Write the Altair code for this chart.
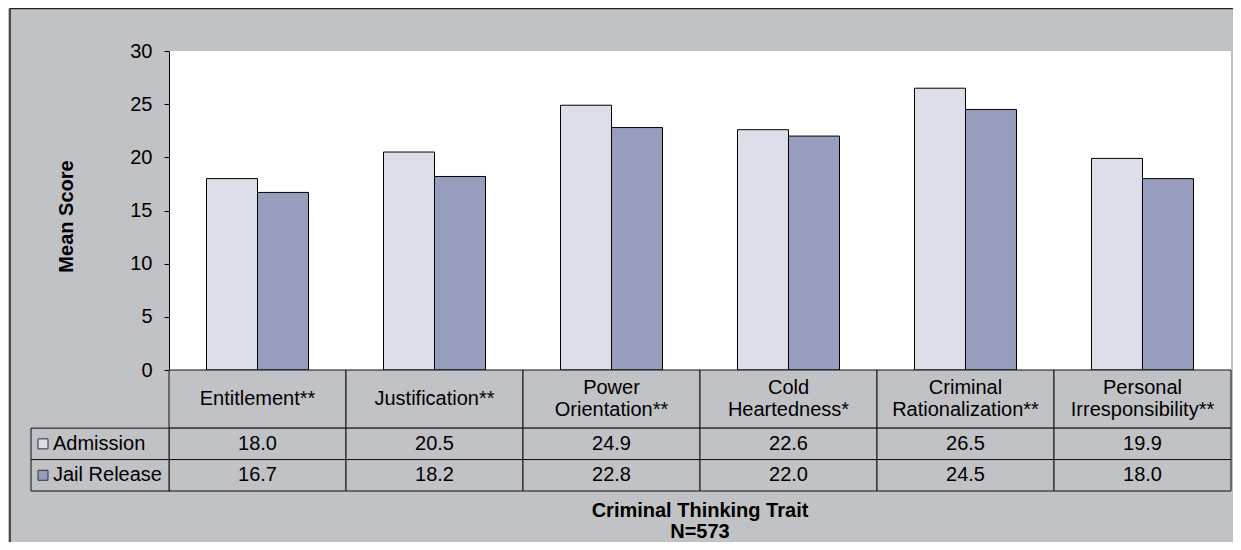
import altair as alt
import pandas as pd

# ---------------- data ----------------
categories = ["Entitlement**", "Justification**", "Power\nOrientation**",
              "Cold\nHeartedness*", "Criminal\nRationalization**",
              "Personal\nIrresponsibility**"]
series = ["Admission", "Jail Release"]
admission = [18.0, 20.5, 24.9, 22.6, 26.5, 19.9]
jail_release = [16.7, 18.2, 22.8, 22.0, 24.5, 18.0]
y_ticks = [0, 5, 10, 15, 20, 25, 30]
y_title = "Mean Score"
x_title = "Criminal Thinking Trait\nN=573"

# ---------------- style / layout ----------------
BG = "#C0C2C6"
COLORS = ["#DCDEEA", "#979DBD"]
FONT = "Liberation Sans"
PLOT_W = 1062
BAR_H = 319
TABLE_H = 121
Y_MAX = 30
HEADER_UNITS = 1.85
TABLE_UNITS = HEADER_UNITS + len(series)
LEGEND_PX = 138
TXT = 20
HEADER_LH = 22
PAD = {"left": 161, "top": 43, "right": 2, "bottom": 51}

n = len(categories)
step_px = PLOT_W / n
legend_left = -LEGEND_PX / step_px
units_per_px = TABLE_UNITS / TABLE_H
values_by_series = [admission, jail_release]

bars_df = pd.DataFrame({
    "category": categories * len(series),
    "series": [s for s in series for _ in range(n)],
    "value": admission + jail_release,
})

y_bar_scale = alt.Scale(domain=[-Y_MAX * TABLE_H / BAR_H, Y_MAX], nice=False, zero=False)
tx = alt.Scale(domain=[0, n], nice=False, zero=False)
ty = alt.Scale(domain=[-TABLE_UNITS * BAR_H / TABLE_H, TABLE_UNITS],
               reverse=True, nice=False, zero=False)
color_scale = alt.Scale(domain=series, range=COLORS)

bars = alt.Chart(bars_df).mark_bar(stroke="black", strokeWidth=1).encode(
    x=alt.X("category:N", sort=categories, axis=None,
            scale=alt.Scale(paddingInner=0.4237, paddingOuter=0.2119)),
    xOffset=alt.XOffset("series:N", sort=series),
    y=alt.Y("value:Q", scale=y_bar_scale,
            axis=alt.Axis(values=y_ticks, title=y_title, grid=False,
                          labelFont=FONT, labelFontSize=20, labelColor="black",
                          labelPadding=12, tickSize=5, tickColor="black",
                          domainColor="black", titleFont=FONT, titleFontSize=20,
                          titleFontWeight="bold", titleColor="black",
                          titlePadding=53, titleY=165)),
    y2=alt.datum(0),
    color=alt.Color("series:N", scale=color_scale, legend=None),
)

# table cells
row_tops = [0] + [HEADER_UNITS + k for k in range(len(series))]
row_bots = [HEADER_UNITS] + [HEADER_UNITS + k + 1 for k in range(len(series))]
cell_rows = []
for i in range(n):
    for r in range(len(row_tops)):
        cell_rows.append({"x0": i, "x1": i + 1, "y0": row_tops[r], "y1": row_bots[r]})
for k in range(len(series)):
    cell_rows.append({"x0": legend_left, "x1": 0, "y0": row_tops[k + 1], "y1": row_bots[k + 1]})
cells_df = pd.DataFrame(cell_rows)

cells = alt.Chart(cells_df).mark_rect(fill=BG, stroke="#111", strokeWidth=1).encode(
    x=alt.X("x0:Q", scale=tx, axis=None), x2="x1:Q",
    y=alt.Y("y0:Q", scale=ty, axis=None), y2="y1:Q",
)

header_df = pd.DataFrame({
    "x": [i + 0.5 for i in range(n)],
    "y": [HEADER_UNITS / 2 - (c.count("\n")) * HEADER_LH / 2 * units_per_px for c in categories],
    "t": categories,
})
header_text = alt.Chart(header_df).mark_text(
    font=FONT, fontSize=TXT, lineBreak="\n", lineHeight=HEADER_LH, color="black",
    align="center", baseline="middle").encode(
    x=alt.X("x:Q", scale=tx, axis=None), y=alt.Y("y:Q", scale=ty, axis=None), text="t:N")

val_rows = []
for k, s in enumerate(series):
    for i in range(n):
        val_rows.append({"x": i + 0.5, "y": (row_tops[k + 1] + row_bots[k + 1]) / 2,
                         "v": values_by_series[k][i]})
val_df = pd.DataFrame(val_rows)
value_text = alt.Chart(val_df).mark_text(
    font=FONT, fontSize=TXT, color="black", align="center", baseline="middle").encode(
    x=alt.X("x:Q", scale=tx, axis=None), y=alt.Y("y:Q", scale=ty, axis=None),
    text=alt.Text("v:Q", format=".1f"))

leg_df = pd.DataFrame({"x": [legend_left] * len(series),
                       "y": [(row_tops[k + 1] + row_bots[k + 1]) / 2 for k in range(len(series))],
                       "series": series})
legend_text = alt.Chart(leg_df).mark_text(
    font=FONT, fontSize=TXT, color="black", align="left", baseline="middle", dx=22).encode(
    x=alt.X("x:Q", scale=tx, axis=None), y=alt.Y("y:Q", scale=ty, axis=None), text="series:N")
swatches = alt.Chart(leg_df).mark_square(
    size=100, filled=True, opacity=1, stroke="#333", strokeWidth=1, xOffset=12).encode(
    x=alt.X("x:Q", scale=tx, axis=None), y=alt.Y("y:Q", scale=ty, axis=None),
    color=alt.Color("series:N", scale=color_scale, legend=None))

title_df = pd.DataFrame({"x": [n / 2], "y": [TABLE_UNITS], "t": [x_title]})
title_text = alt.Chart(title_df).mark_text(
    font=FONT, fontSize=20, fontWeight="bold", color="black", lineBreak="\n",
    lineHeight=21, align="center", baseline="top", dy=10).encode(
    x=alt.X("x:Q", scale=tx, axis=None), y=alt.Y("y:Q", scale=ty, axis=None), text="t:N")

frame_df = pd.DataFrame({"k": [0]})
frame_top = alt.Chart(frame_df).mark_rule(color="#222", strokeWidth=1.5).encode(
    x=alt.value(-159), x2=alt.value(PLOT_W + 20), y=alt.value(-42.5))
frame_left = alt.Chart(frame_df).mark_rule(color="#222", strokeWidth=1.5).encode(
    x=alt.value(-159), y=alt.value(-42.5), y2=alt.value(BAR_H + TABLE_H + 80))

chart = alt.layer(
    bars, cells, header_text, value_text, legend_text, swatches, title_text,
    frame_top, frame_left,
).resolve_scale(x="independent", y="independent").properties(
    width=PLOT_W, height=BAR_H + TABLE_H, padding=PAD,
    autosize=alt.AutoSizeParams(type="none"),
).configure(background=BG, font=FONT).configure_view(fill="white", stroke=None)

chart.save("out.html", embed_options={"renderer": "svg", "actions": False})
